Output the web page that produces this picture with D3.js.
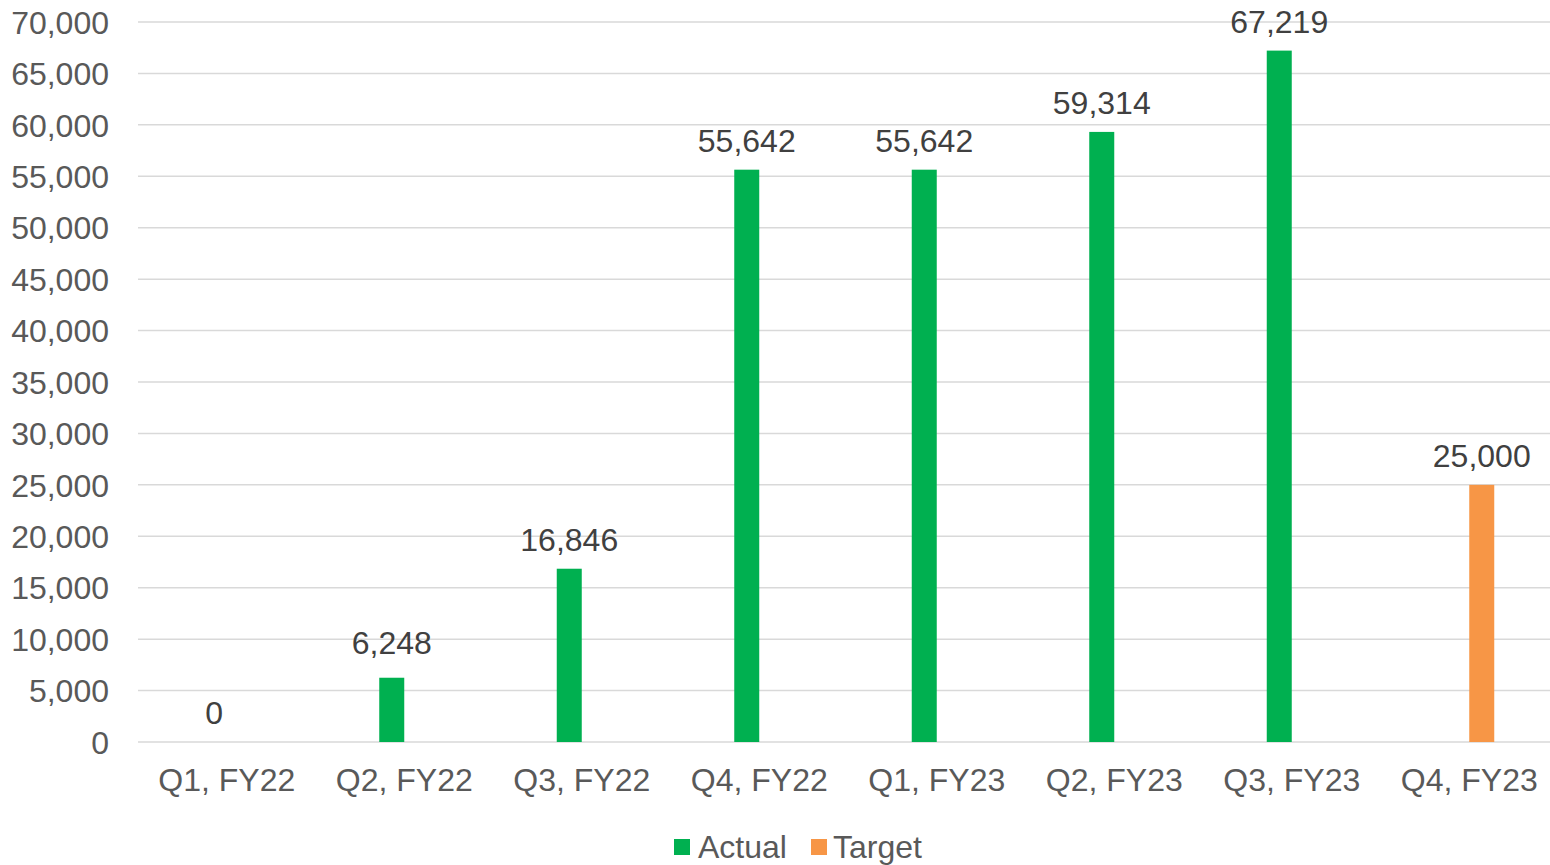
<!DOCTYPE html>
<html>
<head>
<meta charset="utf-8">
<script src="https://cdn.jsdelivr.net/npm/d3@7"></script>
<style>
  html, body { margin: 0; padding: 0; background: #fff; }
  svg { display: block; font-family: "Liberation Sans", Arial, sans-serif; }
</style>
</head>
<body>
<svg id="chart" width="1550" height="865"></svg>
<script>
const categories = ["Q1, FY22", "Q2, FY22", "Q3, FY22", "Q4, FY22", "Q1, FY23", "Q2, FY23", "Q3, FY23", "Q4, FY23"];
const seriesNames = ["Actual", "Target"];
const actualValues = [0, 6248, 16846, 55642, 55642, 59314, 67219, null];
const targetValues = [null, null, null, null, null, null, null, 25000];
const seriesColors = ["#00B050", "#F79646"];
const yTicks = [0, 5000, 10000, 15000, 20000, 25000, 30000, 35000, 40000, 45000, 50000, 55000, 60000, 65000, 70000];

(function () {
const svg = d3.select("#chart");
const pLeft = 138, pRight = 1558, pTop = 22, pBottom = 742;
const fs = 32;

const x = d3.scaleBand().domain(categories).range([pLeft, pRight]).paddingInner(0).paddingOuter(0);
const xInner = d3.scaleBand().domain(seriesNames).range([0, x.bandwidth()]).paddingInner(0).paddingOuter(2.55);
const y = d3.scaleLinear().domain([0, 70000]).range([pBottom, pTop]);
const color = d3.scaleOrdinal().domain(seriesNames).range(seriesColors);
const fmt = d3.format(",");

// gridlines
svg.append("g")
  .selectAll("line")
  .data(yTicks)
  .join("line")
  .attr("x1", pLeft).attr("x2", pRight)
  .attr("y1", d => y(d)).attr("y2", d => y(d))
  .attr("stroke", "#D9D9D9").attr("stroke-width", 1.5);

// y axis labels
const yAxis = d3.axisLeft(y).tickValues(yTicks).tickFormat(fmt).tickSize(0).tickPadding(0);
const ya = svg.append("g").attr("transform", "translate(109,0)").call(yAxis);
ya.select(".domain").remove();
ya.selectAll("text")
  .attr("font-size", fs).attr("fill", "#595959")
  .attr("font-family", "Liberation Sans, Arial, sans-serif")
  .attr("dy", "0.35em");

// x axis labels
const xAxis = d3.axisBottom(x).tickSize(0).tickPadding(0);
const xa = svg.append("g").attr("transform", `translate(0,${pBottom})`).call(xAxis);
xa.select(".domain").remove();
xa.selectAll("text")
  .attr("font-size", fs).attr("fill", "#595959")
  .attr("font-family", "Liberation Sans, Arial, sans-serif")
  .attr("y", 49).attr("dy", 0);

// data
const rows = [];
categories.forEach((c, i) => {
  rows.push({cat: c, series: "Actual", value: actualValues[i]});
  rows.push({cat: c, series: "Target", value: targetValues[i]});
});
const present = rows.filter(r => r.value !== null);

svg.append("g")
  .selectAll("rect")
  .data(present)
  .join("rect")
  .attr("x", d => x(d.cat) + xInner(d.series))
  .attr("width", xInner.bandwidth())
  .attr("y", d => y(d.value))
  .attr("height", d => y(0) - y(d.value))
  .attr("fill", d => color(d.series));

svg.append("g")
  .selectAll("text")
  .data(present)
  .join("text")
  .attr("x", d => x(d.cat) + xInner(d.series) + xInner.bandwidth() / 2)
  .attr("y", d => y(d.value) - 18 - (d.cat === "Q2, FY22" ? 6 : 0))
  .attr("text-anchor", "middle")
  .attr("font-size", fs)
  .attr("fill", "#404040")
  .text(d => fmt(d.value));

// legend
const legendItems = [
  {name: "Actual", sx: 674, tx: 698},
  {name: "Target", sx: 811, tx: 833}
];
const lg = svg.append("g");
lg.selectAll("rect")
  .data(legendItems)
  .join("rect")
  .attr("x", d => d.sx).attr("y", 839)
  .attr("width", 16).attr("height", 16)
  .attr("fill", d => color(d.name));
lg.selectAll("text")
  .data(legendItems)
  .join("text")
  .attr("x", d => d.tx).attr("y", 858)
  .attr("font-size", fs)
  .attr("fill", "#595959")
  .text(d => d.name);
})();
</script>
</body>
</html>
